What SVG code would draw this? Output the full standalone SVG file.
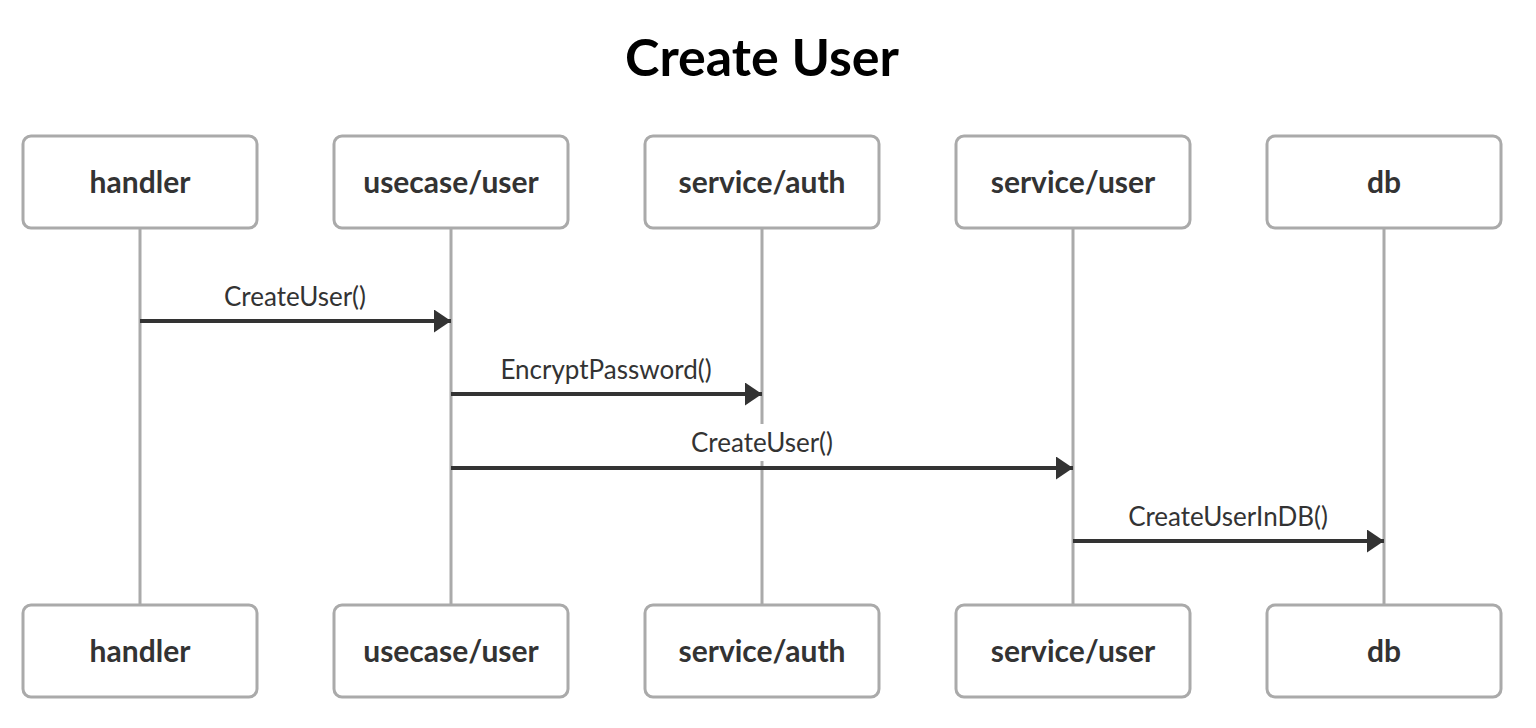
<svg xmlns="http://www.w3.org/2000/svg" width="1536" height="728" viewBox="0 0 1536 728">
<style>
.box{fill:#fff;stroke:#aaa;stroke-width:3}
.life{stroke:#aaa;stroke-width:3}
.name{font-family:Lato,"Liberation Sans",sans-serif;font-weight:bold;font-size:30px;fill:#333;text-anchor:middle}
.msg{stroke:#333;stroke-width:4;fill:none}
.lbl{font-family:Lato,"Liberation Sans",sans-serif;font-size:26px;fill:#333;text-anchor:middle}
.title{font-family:Lato,"Liberation Sans",sans-serif;font-weight:bold;font-size:52px;fill:#000;text-anchor:middle}
</style>
<defs>
<marker id="ah" markerWidth="17" markerHeight="23" refX="17" refY="11.5" orient="auto" markerUnits="userSpaceOnUse">
<path d="M0,0 L17,11.5 L0,23 Z" fill="#333"/>
</marker>
</defs>
<rect width="1536" height="728" fill="#fff"/>
<text class="title" x="762" y="76">Create User</text>
<g id="lifelines">
<line class="life" x1="140" y1="228" x2="140" y2="605"/>
<line class="life" x1="451" y1="228" x2="451" y2="605"/>
<line class="life" x1="762" y1="228" x2="762" y2="605"/>
<line class="life" x1="1073" y1="228" x2="1073" y2="605"/>
<line class="life" x1="1384" y1="228" x2="1384" y2="605"/>
</g>
<g id="handler"><rect class="box" x="23" y="136" width="234" height="92" rx="8"/><text class="name" x="140" y="193">handler</text></g>
<g id="usecase-user"><rect class="box" x="334" y="136" width="234" height="92" rx="8"/><text class="name" x="451" y="193">usecase/user</text></g>
<g id="service-auth"><rect class="box" x="645" y="136" width="234" height="92" rx="8"/><text class="name" x="762" y="193">service/auth</text></g>
<g id="service-user"><rect class="box" x="956" y="136" width="234" height="92" rx="8"/><text class="name" x="1073" y="193">service/user</text></g>
<g id="db"><rect class="box" x="1267" y="136" width="234" height="92" rx="8"/><text class="name" x="1384" y="193">db</text></g>
<g id="handler-bottom"><rect class="box" x="23" y="605" width="234" height="92" rx="8"/><text class="name" x="140" y="662">handler</text></g>
<g id="usecase-user-bottom"><rect class="box" x="334" y="605" width="234" height="92" rx="8"/><text class="name" x="451" y="662">usecase/user</text></g>
<g id="service-auth-bottom"><rect class="box" x="645" y="605" width="234" height="92" rx="8"/><text class="name" x="762" y="662">service/auth</text></g>
<g id="service-user-bottom"><rect class="box" x="956" y="605" width="234" height="92" rx="8"/><text class="name" x="1073" y="662">service/user</text></g>
<g id="db-bottom"><rect class="box" x="1267" y="605" width="234" height="92" rx="8"/><text class="name" x="1384" y="662">db</text></g>
<g id="connectors">
<text class="lbl" x="295" y="306">CreateUser()</text>
<line class="msg" x1="140" y1="321" x2="451" y2="321" marker-end="url(#ah)"/>
<text class="lbl" x="606" y="379">EncryptPassword()</text>
<line class="msg" x1="451" y1="394" x2="762" y2="394" marker-end="url(#ah)"/>
<rect x="686" y="424" width="152" height="37" fill="#fff"/>
<text class="lbl" x="762" y="452">CreateUser()</text>
<line class="msg" x1="451" y1="468" x2="1073" y2="468" marker-end="url(#ah)"/>
<text class="lbl" x="1228" y="526">CreateUserInDB()</text>
<line class="msg" x1="1073" y1="541" x2="1384" y2="541" marker-end="url(#ah)"/>
</g>
</svg>
